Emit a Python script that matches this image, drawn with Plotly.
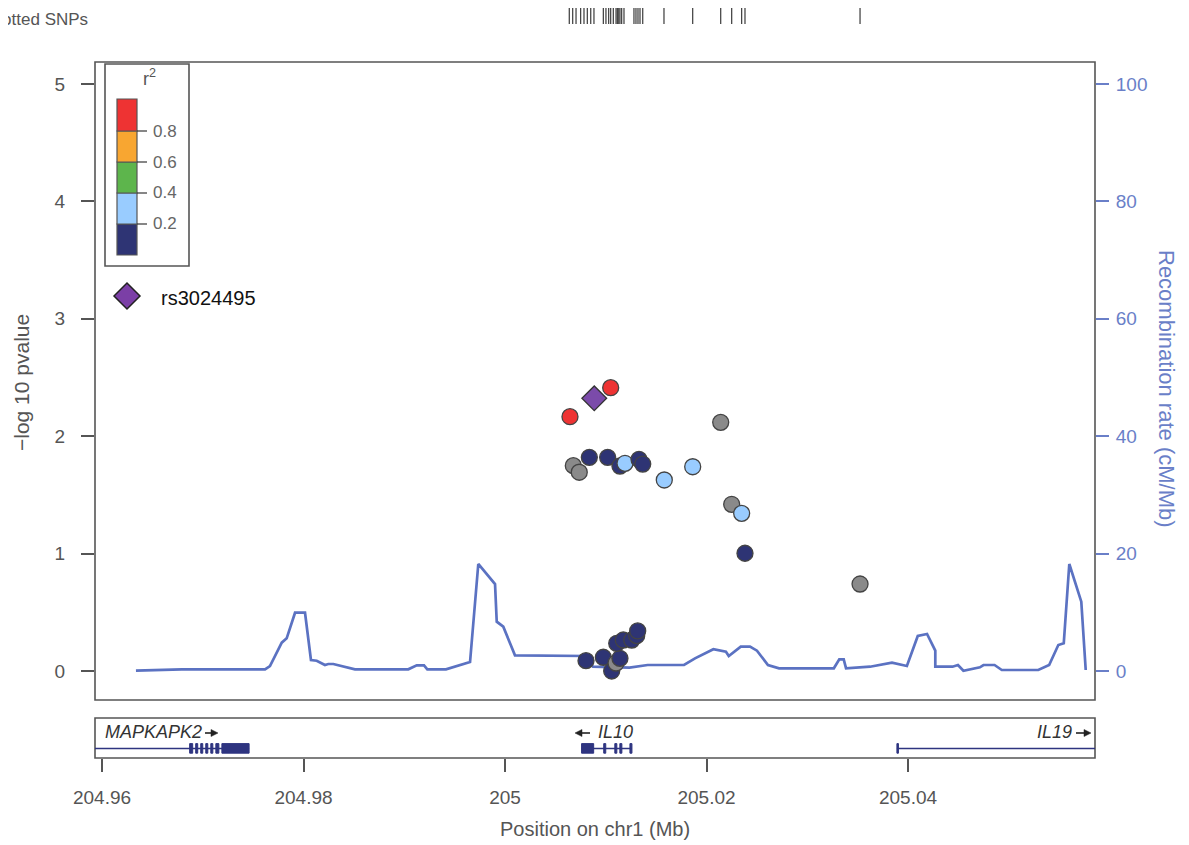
import plotly.graph_objects as go

# ---------------- data ----------------
# SNPs: position (Mb), -log10 p, LD class
snp_pos = [205.00645, 205.01049, 205.02141, 205.00678, 205.00737, 205.00837, 205.01019,
           205.01141, 205.01191, 205.01330, 205.01367, 205.01581, 205.01863, 205.02250,
           205.02349, 205.02382, 205.03524, 205.00804, 205.00976, 205.01059, 205.01102,
           205.01141, 205.01109, 205.01174, 205.01258, 205.01307, 205.01317]
snp_logp = [2.166, 2.413, 2.118, 1.749, 1.693, 1.820, 1.820,
            1.746, 1.769, 1.803, 1.763, 1.627, 1.740, 1.420,
            1.343, 1.003, 0.741, 0.088, 0.117, 0.000, 0.068,
            0.108, 0.236, 0.264, 0.264, 0.301, 0.341]
snp_ld = ["0.8-1", "0.8-1", "NA", "NA", "NA", "0-0.2", "0-0.2",
          "0-0.2", "0.2-0.4", "0-0.2", "0-0.2", "0.2-0.4", "0.2-0.4", "NA",
          "0.2-0.4", "0-0.2", "NA", "0-0.2", "0-0.2", "0-0.2", "NA",
          "0-0.2", "0-0.2", "0-0.2", "0-0.2", "0-0.2", "0-0.2"]

lead_name = "rs3024495"
lead_pos = [205.00886]
lead_logp = [2.323]

# recombination rate (cM/Mb)
recomb_pos = [204.96337, 204.96791, 204.97618, 204.97667, 204.97784, 204.97833, 204.97916,
              204.98015, 204.98074, 204.98131, 204.98213, 204.98246, 204.98296, 204.98511,
              204.99040, 204.99124, 204.99196, 204.99229, 204.99414, 204.99653, 204.99735,
              204.99901, 204.99918, 204.99983, 205.00099, 205.00801, 205.00873, 205.01236,
              205.01416, 205.01777, 205.01886, 205.02068, 205.02193, 205.02221, 205.02340,
              205.02432, 205.02501, 205.02610, 205.02720, 205.03264, 205.03318, 205.03362,
              205.03385, 205.03623, 205.03841, 205.03989, 205.04097, 205.04189, 205.04271,
              205.04271, 205.04442, 205.04496, 205.04550, 205.04714, 205.04749, 205.04859,
              205.04931, 205.05293, 205.05401, 205.05492, 205.05546, 205.05601, 205.05720,
              205.05764]
recomb_rate = [0.05, 0.29, 0.29, 0.85, 4.82, 5.57, 9.93,
               9.93, 1.87, 1.75, 1.02, 1.19, 1.19, 0.29,
               0.29, 0.97, 0.97, 0.29, 0.29, 1.53, 18.23,
               14.82, 8.40, 7.55, 2.67, 2.56, 0.73, 0.56,
               1.02, 1.02, 2.16, 3.70, 3.29, 2.56, 4.14,
               4.14, 3.46, 1.02, 0.46, 0.46, 1.99, 1.99,
               0.46, 0.73, 1.41, 0.85, 5.96, 6.30, 3.46,
               0.73, 0.73, 1.02, 0.05, 0.63, 1.02, 1.02,
               0.17, 0.17, 1.02, 4.43, 4.72, 18.23, 11.81,
               0.17]

# plotted SNPs rug (Mb)
rug_pos = [205.00638, 205.00672, 205.00705, 205.00751, 205.00784, 205.00817, 205.00851,
           205.00883, 205.00976, 205.01002, 205.01029, 205.01049, 205.01075, 205.01102,
           205.01115, 205.01129, 205.01141, 205.01158, 205.01181, 205.01280, 205.01300,
           205.01320, 205.01340, 205.01367, 205.01578, 205.01863, 205.02141, 205.02250,
           205.02349, 205.02382, 205.03524]

# genes
gene_names = ["MAPKAPK2", "IL10", "IL19"]
gene_strand = ["+", "-", "+"]
gene_start = [204.9500, 205.0076, 205.0389]
gene_end = [204.9746, 205.0126, 205.0700]
gene_exons = [
    [(204.9687, 204.9690), (204.9693, 204.9695), (204.9698, 204.9700), (204.9703, 204.9705),
     (204.9708, 204.9710), (204.9713, 204.9716), (204.9719, 204.9746)],
    [(205.0076, 205.0088), (205.0098, 205.0100), (205.0109, 205.0111), (205.0114, 205.0116),
     (205.0124, 205.0126)],
    [(205.0389, 205.03905)],
]

x_ticks = [204.96, 204.98, 205.00, 205.02, 205.04]
x_ticktext = ["204.96", "204.98", "205", "205.02", "205.04"]
p_ticks = [0, 1, 2, 3, 4, 5]
r_ticks = [0, 20, 40, 60, 80, 100]

ld_bins = ["0-0.2", "0.2-0.4", "0.4-0.6", "0.6-0.8", "0.8-1"]
ld_colors = {"0-0.2": "#2E3474", "0.2-0.4": "#99CCFF", "0.4-0.6": "#5DB54C",
             "0.6-0.8": "#F8A631", "0.8-1": "#EE3333", "NA": "#8A8A8A"}
ld_labels = ["0.2", "0.4", "0.6", "0.8"]

# ---------------- layout geometry ----------------
W, H = 1189, 845
OFF = 8  # page body margin
L, R, T, B = 95, 1095, 62, 758
X_RANGE = [204.959305, 205.058561]
P_RANGE = [-0.2470, 5.1874]
R_RANGE = [v * 20 for v in P_RANGE]


def px(xp):
    return (xp - L) / (R - L)


def py(yp):
    return (B - yp) / (B - T)


FONT = "Liberation Sans, Arial, Helvetica, sans-serif"
GREY = "#555555"
BLUE = "#6A7FC8"
LINEBLUE = "#5B72C2"
GENE = "#2E3480"

fig = go.Figure()

fig.add_trace(go.Scatter(x=recomb_pos, y=recomb_rate, mode="lines",
                         line=dict(color=LINEBLUE, width=2.7),
                         xaxis="x", yaxis="y", hoverinfo="skip", showlegend=False))

fig.add_trace(go.Scatter(x=snp_pos, y=snp_logp, mode="markers",
                         marker=dict(size=16, color=[ld_colors[c] for c in snp_ld],
                                     line=dict(color="#444444", width=1.3)),
                         xaxis="x", yaxis="y2", showlegend=False, cliponaxis=False))
fig.add_trace(go.Scatter(x=lead_pos, y=lead_logp, mode="markers",
                         marker=dict(size=19, symbol="diamond", color="#7B4BAA",
                                     line=dict(color="#333333", width=1.3)),
                         xaxis="x", yaxis="y2", showlegend=False, cliponaxis=False))

fig.add_trace(go.Scatter(x=[gene_start[1]], y=[0.5], mode="markers",
                         marker=dict(opacity=0), xaxis="x", yaxis="y3",
                         hoverinfo="skip", showlegend=False))

shapes = []
shapes.append(dict(type="rect", xref="paper", yref="paper", x0=0, x1=1, y0=py(700), y1=1,
                   line=dict(color=GREY, width=1.6), layer="above"))
shapes.append(dict(type="rect", xref="paper", yref="paper", x0=0, x1=1, y0=0, y1=py(718),
                   line=dict(color=GREY, width=1.6), layer="above"))

for p in rug_pos:
    shapes.append(dict(type="line", xref="x", yref="paper", x0=p, x1=p, y0=py(24), y1=py(7),
                       line=dict(color="#3A3A3A", width=1.2)))

GL = 0.24
for name, s, e, exons in zip(gene_names, gene_start, gene_end, gene_exons):
    s2 = max(s, X_RANGE[0])
    e2 = min(e, X_RANGE[1])
    shapes.append(dict(type="line", xref="x", yref="y3", x0=s2, x1=e2, y0=GL, y1=GL,
                       line=dict(color=GENE, width=1.5)))
    for a, b in exons:
        shapes.append(dict(type="rect", xref="x", yref="y3", x0=a, x1=b, y0=0.12, y1=0.36,
                           fillcolor=GENE, line=dict(color=GENE, width=1)))


def arrow(x0, x1, yp):
    """strand arrow from pixel x0 to x1 (head at x1) at pixel row yp"""
    d = 1 if x1 > x0 else -1
    out = [dict(type="line", xref="paper", yref="paper", x0=px(x0), x1=px(x1 - d * 4),
                y0=py(yp), y1=py(yp), line=dict(color="#222222", width=1.6))]
    out.append(dict(type="path", xref="paper", yref="paper",
                    path=f"M {px(x1)},{py(yp)} L {px(x1 - d * 7)},{py(yp - 3.5)} "
                         f"L {px(x1 - d * 7)},{py(yp + 3.5)} Z",
                    fillcolor="#222222", line=dict(color="#222222", width=0.5)))
    return out


shapes += arrow(205, 218, 733)
shapes += arrow(590, 575, 733)
shapes += arrow(1076, 1091, 733)

shapes.append(dict(type="rect", xref="paper", yref="paper", x0=px(105), x1=px(189),
                   y0=py(266), y1=py(64), line=dict(color=GREY, width=1.6),
                   fillcolor="white"))
seg_edges = [255, 224, 193, 162, 131, 99]
for i, b in enumerate(ld_bins):
    shapes.append(dict(type="rect", xref="paper", yref="paper", x0=px(117), x1=px(137),
                       y0=py(seg_edges[i]), y1=py(seg_edges[i + 1]),
                       fillcolor=ld_colors[b], line=dict(color="#555555", width=1.2)))
for i, lab in enumerate(ld_labels):
    yy = seg_edges[i + 1]
    shapes.append(dict(type="line", xref="paper", yref="paper", x0=px(137), x1=px(147),
                       y0=py(yy), y1=py(yy), line=dict(color="#444444", width=1.3)))

cx, cy, hw = 127, 296, 13
shapes.append(dict(type="path", xref="paper", yref="paper",
                   path=f"M {px(cx-hw)},{py(cy)} L {px(cx)},{py(cy-hw)} L {px(cx+hw)},{py(cy)} "
                        f"L {px(cx)},{py(cy+hw)} Z",
                   fillcolor="#7B3FA6", line=dict(color="#222222", width=1.5)))

annotations = []
for i, lab in enumerate(ld_labels):
    annotations.append(dict(xref="paper", yref="paper", x=px(151), y=py(seg_edges[i + 1]),
                            text=lab, showarrow=False, xanchor="left", yanchor="middle",
                            font=dict(family=FONT, size=17, color="#666666")))
annotations.append(dict(xref="paper", yref="paper", x=px(149), y=py(77), text="r<sup>2</sup>",
                        showarrow=False, xanchor="center", yanchor="middle",
                        font=dict(family=FONT, size=18, color="#555555")))
annotations.append(dict(xref="paper", yref="paper", x=px(159), y=py(298), text=lead_name,
                        showarrow=False, xanchor="left", yanchor="middle",
                        font=dict(family=FONT, size=20, color="#111111")))

annotations.append(dict(xref="paper", yref="y3", x=px(103), y=0.66,
                        text="<i>" + gene_names[0] + "</i>", showarrow=False,
                        xanchor="left", yanchor="middle",
                        font=dict(family=FONT, size=18, color="#333333")))
annotations.append(dict(xref="paper", yref="y3", x=px(596), y=0.66,
                        text="<i>" + gene_names[1] + "</i>", showarrow=False,
                        xanchor="left", yanchor="middle",
                        font=dict(family=FONT, size=18, color="#333333")))
annotations.append(dict(xref="paper", yref="y3", x=px(1074), y=0.66,
                        text="<i>" + gene_names[2] + "</i>", showarrow=False,
                        xanchor="right", yanchor="middle",
                        font=dict(family=FONT, size=18, color="#333333")))

annotations.append(dict(xref="paper", yref="paper", x=px(22), y=py(383),
                        text="\u2212log 10 pvalue", textangle=-90, showarrow=False,
                        xanchor="center", yanchor="middle",
                        font=dict(family=FONT, size=21, color=GREY)))
annotations.append(dict(xref="paper", yref="paper", x=px(1167), y=py(389),
                        text="Recombination rate (cM/Mb)", textangle=90, showarrow=False,
                        xanchor="center", yanchor="middle",
                        font=dict(family=FONT, size=22, color=BLUE)))
annotations.append(dict(xref="paper", yref="paper", x=px(595), y=py(829),
                        text="Position on chr1 (Mb)", showarrow=False,
                        xanchor="center", yanchor="middle",
                        font=dict(family=FONT, size=20, color=GREY)))
annotations.append(dict(xref="paper", yref="paper", x=px(90), y=py(19),
                        text="Plotted SNPs", showarrow=False,
                        xanchor="right", yanchor="middle",
                        font=dict(family=FONT, size=17, color=GREY)))

fig.update_layout(
    width=W - OFF, height=H - OFF,
    margin=dict(l=L - OFF, r=W - R, t=T - OFF, b=H - B, pad=0),
    paper_bgcolor="white", plot_bgcolor="rgba(0,0,0,0)",
    font=dict(family=FONT, color=GREY),
    showlegend=False,
    xaxis=dict(domain=[0, 1], range=X_RANGE, anchor="y3", tickmode="array",
               tickvals=x_ticks, ticktext=x_ticktext, ticks="outside", ticklen=13,
               tickwidth=1.5, tickcolor=GREY, showgrid=False, zeroline=False,
               showline=False, ticklabelstandoff=9,
               tickfont=dict(family=FONT, size=19, color=GREY)),
    yaxis=dict(domain=[py(700), 1], range=R_RANGE, side="right", anchor="x",
               tickmode="array", tickvals=r_ticks, ticks="outside", ticklen=13,
               tickwidth=1.5, tickcolor=BLUE, showgrid=False, zeroline=False,
               showline=False, ticklabelstandoff=3,
               tickfont=dict(family=FONT, size=19, color=BLUE)),
    yaxis2=dict(overlaying="y", range=P_RANGE, side="left", anchor="x",
                tickmode="array", tickvals=p_ticks, ticks="outside", ticklen=13,
                tickwidth=1.5, tickcolor=GREY, showgrid=False, zeroline=False,
                showline=False, ticklabelstandoff=12,
                tickfont=dict(family=FONT, size=19, color=GREY)),
    yaxis3=dict(domain=[0, py(718)], range=[0, 1], anchor="x", visible=False,
                fixedrange=True),
    shapes=shapes,
    annotations=annotations,
)

fig.write_html("out.html")
